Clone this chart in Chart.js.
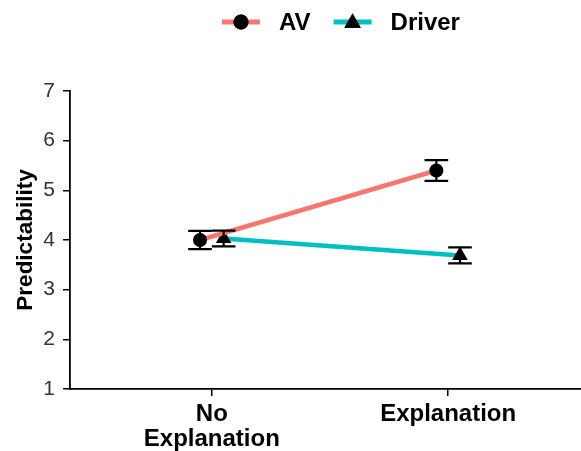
<!DOCTYPE html>
<html>
<head>
<meta charset="utf-8">
<script src="https://cdn.jsdelivr.net/npm/chart.js@4.4.1/dist/chart.umd.min.js"></script>
<style>
  html, body { margin: 0; padding: 0; background: #fff; overflow: hidden; }
  #wrap { width: 581px; height: 451px; position: relative; }
</style>
</head>
<body>
<div id="wrap"><canvas id="c" width="581" height="451"></canvas></div>
<script>
// Conditions on the x axis
const conditions = [["No", "Explanation"], "Explanation"];
// Mean predictability ratings and error half-widths
const avMeans = [4.00, 5.40];
const avErrors = [0.185, 0.21];
const driverMeans = [4.03, 3.69];
const driverErrors = [0.16, 0.16];
const yTicks = [1, 2, 3, 4, 5, 6, 7];

const DODGE = 0.05;
const AV_COLOR = '#F8766D';
const DRIVER_COLOR = '#00BFC4';
const FONT = '"Liberation Sans", Arial, sans-serif';

function toPoints(means, shift) {
  return means.map((m, i) => ({ x: i + shift, y: m }));
}

// Vertical error bars with caps, drawn from each dataset's errors
const errorBars = {
  id: 'errorBars',
  afterDatasetsDraw(chart) {
    const { ctx, scales: { x, y } } = chart;
    ctx.save();
    ctx.strokeStyle = '#000';
    ctx.lineWidth = 2.2;
    chart.data.datasets.forEach(ds => {
      ds.data.forEach((p, i) => {
        const e = ds.errors[i];
        const px = x.getPixelForValue(p.x);
        const capL = x.getPixelForValue(p.x - 0.05);
        const capR = x.getPixelForValue(p.x + 0.05);
        const top = y.getPixelForValue(p.y + e);
        const bot = y.getPixelForValue(p.y - e);
        ctx.beginPath();
        ctx.moveTo(px, top); ctx.lineTo(px, bot);
        ctx.moveTo(capL, top); ctx.lineTo(capR, top);
        ctx.moveTo(capL, bot); ctx.lineTo(capR, bot);
        ctx.stroke();
      });
    });
    ctx.restore();
  }
};

// Legend: coloured line key with the series marker, then the label
const lineLegend = {
  id: 'lineLegend',
  afterDraw(chart) {
    const ctx = chart.ctx;
    ctx.save();
    ctx.font = 'bold 24px ' + FONT;
    ctx.textBaseline = 'middle';
    const yMid = 22;
    let x = 222;
    chart.data.datasets.forEach(ds => {
      ctx.strokeStyle = ds.borderColor;
      ctx.lineWidth = 5;
      ctx.beginPath();
      ctx.moveTo(x, yMid); ctx.lineTo(x + 38, yMid);
      ctx.stroke();
      const tri = ds.pointStyle === 'triangle';
      Chart.helpers.drawPoint(ctx, {
        pointStyle: ds.pointStyle,
        radius: tri ? 9.5 : 7.5,
        rotation: 0,
        borderWidth: 0
      }, x + 19, yMid + (tri ? 1 : 0));
      ctx.fillStyle = '#000';
      ctx.fill();
      ctx.fillText(ds.label, x + 57, yMid + 1);
      x += 57 + ctx.measureText(ds.label).width + 23;
    });
    ctx.restore();
  }
};

new Chart(document.getElementById('c'), {
  type: 'line',
  data: {
    datasets: [
      {
        label: 'AV',
        data: toPoints(avMeans, -DODGE),
        errors: avErrors,
        borderColor: AV_COLOR,
        borderWidth: 4.5,
        pointStyle: 'circle',
        pointRadius: 7,
        pointBackgroundColor: '#000',
        pointBorderColor: '#000',
        pointBorderWidth: 0
      },
      {
        label: 'Driver',
        data: toPoints(driverMeans, DODGE),
        errors: driverErrors,
        borderColor: DRIVER_COLOR,
        borderWidth: 4.5,
        pointStyle: 'triangle',
        pointRadius: 9,
        pointBackgroundColor: '#000',
        pointBorderColor: '#000',
        pointBorderWidth: 0
      }
    ]
  },
  options: {
    responsive: false,
    animation: false,
    layout: { autoPadding: false, padding: { top: 91, left: 0, right: 0, bottom: 0 } },
    plugins: { legend: { display: false }, tooltip: { enabled: false } },
    scales: {
      x: {
        type: 'linear',
        min: -0.6,
        max: 1.562,
        afterBuildTicks(scale) { scale.ticks = conditions.map((_, i) => ({ value: i })); },
        afterFit(scale) {
          scale.height = 62;
          scale.paddingLeft = 0;
          scale.paddingRight = 0;
        },
        ticks: {
          callback: (v) => conditions[v],
          color: '#000',
          font: { family: FONT, size: 24, weight: 'bold', lineHeight: 1.05 },
          padding: 6,
          maxRotation: 0,
          autoSkip: false
        },
        grid: { drawOnChartArea: false, drawTicks: true, tickLength: 7, color: '#000', lineWidth: 1.5 },
        border: { display: true, color: '#000', width: 1.8 }
      },
      y: {
        min: 1,
        max: 7,
        afterBuildTicks(scale) { scale.ticks = yTicks.map(v => ({ value: v })); },
        afterFit(scale) {
          scale.width = 70;
          scale.paddingTop = 0;
          scale.paddingBottom = 0;
        },
        ticks: {
          color: '#333',
          font: { family: FONT, size: 21 },
          padding: 8
        },
        title: {
          display: true,
          text: 'Predictability',
          color: '#000',
          font: { family: FONT, size: 22.5, weight: 'bold' },
          padding: { top: 12, bottom: 0 }
        },
        grid: { drawOnChartArea: false, drawTicks: true, tickLength: 7, color: '#000', lineWidth: 1.5 },
        border: { display: true, color: '#000', width: 1.8 }
      }
    }
  },
  plugins: [errorBars, lineLegend]
});
</script>
</body>
</html>
